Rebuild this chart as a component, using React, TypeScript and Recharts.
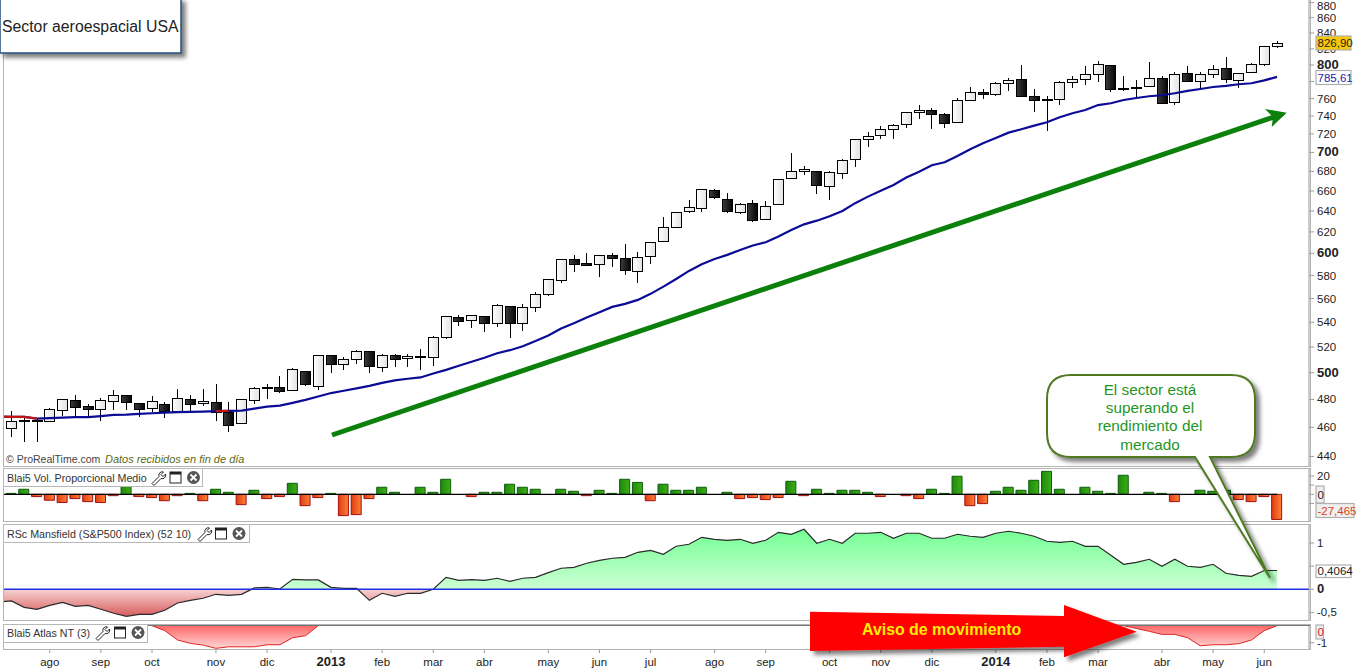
import React from 'react';
import { ComposedChart, Bar, Line, Area, XAxis, YAxis, Cell, ReferenceLine } from 'recharts';

const FONT = '"Liberation Sans", Arial, sans-serif';

// weekly candles, read off the log price scale
const opens = [459.4,465.3,465.1,464.4,471.9,479.5,475.3,472.9,478.7,483.2,477.3,473.3,476.5,471.9,480.2,477.3,478,471.2,463,479.5,
  489.1,489.1,486.9,501.2,489.8,513.6,506.6,510.4,516.7,504.3,513.6,511.2,512.4,512,527.9,544.3,541.8,545.1,539.3,553.4,
  539.3,552.6,563.6,575.8,594.6,591,590.1,598.3,595.5,583.9,597.3,611.2,624.4,639.8,642.9,660.7,651.7,638.9,647.8,632.1,
  646.7,673,680.2,680.2,664.8,678.1,692.7,714.3,718.6,725.2,730.7,744.3,746.5,741.9,733,758,767.3,765,777.9,782.7,
  762.6,759.2,759.2,779,782.7,788.7,799.6,772,773.2,774.4,783.9,755.7,789.9,780.1,788.7,796,781.5,791.1,800.9,823.1];
const highs = [471.7,466.5,466.7,473.6,480.4,483.4,476.6,481,487.1,483.2,477.3,482.2,478,487.6,483.4,487.6,491.6,478,480.2,489.1,
  491.4,497.6,503.5,501.2,513.6,513.6,512,517.7,516.7,514.4,514.4,514.4,518.3,528.7,545.1,546.2,545.9,545.1,555.4,553.4,
  555.4,565.3,576.7,594.6,598.3,600.1,598.3,600.1,608.2,601,610.3,634,638.9,650.7,661.7,661.7,657.6,647.8,650.7,649.7,
  671.9,699,685.4,680.2,680.2,692.7,714.3,722,728.5,730.7,744.3,752.5,748.8,743.1,760.4,773.2,770.8,779,783.9,799.6,
  771,762.6,780.3,786.2,798.4,804.5,799.6,786.2,781.5,803.3,786.2,791.1,798.4,791.1,799.6,809.4,789.9,802.1,823.1,829.5];
const lows = [452.9,449.5,449.5,463.4,468.1,468.1,468.1,464.8,472.4,472.4,467.6,471.2,466.9,471.9,470.5,475.5,464.8,457,463,477,
  480.6,485.1,486.1,490.3,486.6,499.7,502.2,506.8,499.4,500.9,504.7,504,502.4,505.2,526.8,537.1,535.7,532.4,536.5,527.6,
  533.2,548.9,562.5,573.8,583.5,589.2,579,587.9,580.8,573.3,590.7,611.2,624.4,637.9,638.9,651.7,637.9,636.9,629.2,632.1,
  646.7,673,676,656.7,650.7,671.9,684.3,706.1,714.3,714.3,726.3,736.4,725.2,726.3,733,758,759.2,762.6,768.4,762.6,
  745,723.6,752.5,772.3,776,780,767.3,768.4,760.4,773,754.6,752.3,779,769.6,783.9,777.9,771.9,791.1,798.4,820.6];
const closes = [464.4,464.4,464.6,472.9,480.2,474.1,472.9,479.5,483.2,477.7,472.9,478.7,471.2,481,476.5,478.7,470.5,462,480.2,488.4,
  488.1,486.1,502.7,491,513.6,506.6,510.4,516.7,505,513.6,510.4,512.8,512.6,527.9,545.1,541,545.9,539.3,554.3,539.3,
  552.6,563.6,576.7,594.6,590.1,589.2,598.3,595.5,584.7,596.4,610.3,624.8,638.9,643.8,661.7,653.7,639.8,646.8,631.1,644.7,
  671.9,680.2,682.2,665.8,679.1,691.7,714.3,717.6,725.2,729.6,744.3,746.5,742,731.9,758,767.3,765,777.9,781.5,762.6,
  758,758,779,782.7,788.7,800.9,771,771,772,783.9,754.6,788.7,780.1,788.7,794.7,782.7,789.9,800.9,823.1,826.9];
const movingAvg = [467.4,467.4,466.2,466.5,466.9,467.2,467.2,467.9,468.8,469,469.5,470,470.5,470.8,471,471.2,471.5,471.7,471.9,473.3,
  474.8,475.5,477.5,479.7,482.2,484.7,486.4,488.2,490,492.3,494.2,495.4,496.4,499.4,502.2,505.3,508.4,511.5,515.1,517.5,
  520.6,524.9,529.2,534.9,539.3,543.9,548.4,552.9,555.4,558.8,564,570.3,577,584.1,590,594.9,598.6,603.1,607.3,610.3,
  615.6,621.8,627.2,630.7,634.9,640.1,647.8,654.3,660.3,666.1,673.6,679.7,686.4,689.6,696.2,703.4,710,715.7,721.5,725.2,
  729.2,733,738.6,743.2,746.9,752.5,754.6,758.4,760.7,762.7,763.9,766.2,768.9,771.2,773.6,774.8,776.8,778,781.5,785.61];
const redAvgWeeks = [-1, 0, 1, 2, 16, 17];

const volume = [1,5.5,-2.5,-6.5,-9,-4.7,-8,-9,-1.5,8.5,-2.5,-3.6,-7,-1.5,1,-7,5.5,2.2,-11.3,4.4,
  -4.7,-2.5,12,-12.4,-3.6,1,-23.3,-22.2,-4.7,7.7,2.2,0,7.7,2.2,16.4,0,-2.5,2.2,2.2,11,
  7.7,5.5,0,5.5,3.3,-1.5,4.4,1,16.4,13,-7,11,4.4,4.4,7.7,0,2.2,-4.7,-3.6,-5.8,
  -3.6,14.2,-1.5,5.5,1,4.4,4.4,2.2,-2.5,0,-1.5,-4.7,5.5,1,19.7,-12.4,-10.2,3.3,7.7,4.4,
  15.3,25.1,5.5,0,7.7,3.3,1,20.8,0,2.2,1,-8,0,4.4,3.3,4.4,-5.8,-8,-2.5,-27.465];

const mansfield = [-0.252,-0.389,-0.432,-0.346,-0.281,-0.367,-0.346,-0.432,-0.518,-0.583,-0.54,-0.54,-0.454,-0.295,-0.238,-0.194,-0.108,-0.13,-0.108,0.029,
  0.043,0.007,0.216,0.202,0.202,0.043,0.022,0.022,-0.238,-0.086,-0.151,-0.086,-0.086,0,0.259,0.194,0.209,0.194,0.238,0.173,
  0.238,0.259,0.36,0.454,0.475,0.562,0.626,0.67,0.691,0.799,0.842,0.756,0.929,0.972,1.123,1.08,1.058,1.08,0.994,1.058,
  1.231,1.188,1.296,0.994,1.08,0.994,1.21,1.21,1.231,1.102,1.21,1.21,1.102,1.102,1.188,1.145,1.123,1.21,1.253,1.21,
  1.145,1.037,1.015,1.037,0.929,0.929,0.734,0.54,0.583,0.648,0.497,0.648,0.497,0.475,0.54,0.346,0.302,0.281,0.4064,0.4064];

// the week just before the first candle: only its lines show at the left edge
const avgBefore = 467.6;
const mansfieldBefore = -0.274;

const atlasWeeks = [11,12,13,14,15,16,17,18,19,20,21,22,23,24,87,88,89,90,91,92,93,94,95,96,97,98,99];
const atlasValues = [0,-0.29,-0.84,-1.04,-1.14,-1.33,-1.24,-1.24,-1.24,-1.12,-1.12,-0.71,-0.59,0,0,-0.16,-0.33,-0.51,-0.51,-0.71,-1.18,-1.12,-1.12,-1.06,-0.84,-0.29,0];

const monthWeeks = [3,7,11,16,20,25,29,33,37,42,46,50,55,59,64,68,72,77,81,85,90,94,98];
const monthLabels = ['ago','sep','oct','nov','dic','2013','feb','mar','abr','may','jun','jul','ago','sep','oct','nov','dic','2014','feb','mar','abr','may','jun'];

const priceTicks = [440,460,480,500,520,540,560,580,600,620,640,660,680,700,720,740,760,780,800,820,840,860,880];

const rows = Array.from({ length: 103 }, (_, n) => {
  const i = n - 1;
  const atlasAt = atlasWeeks.indexOf(i);
  const v = i < 0 ? mansfieldBefore : mansfield[i];
  const avg = i < 0 ? avgBefore : movingAvg[i];
  return {
    idx: i,
    open: opens[i],
    high: highs[i],
    low: lows[i],
    close: closes[i],
    avg,
    avgRed: redAvgWeeks.includes(i) ? avg : null,
    vol: i >= 0 && i < 100 && volume[i] !== 0 ? volume[i] : null,
    rs: v,
    rsUp: v === undefined ? null : Math.max(v, 0),
    rsDown: v === undefined ? null : Math.min(v, 0),
    atlas: atlasAt >= 0 ? atlasValues[atlasAt] : null,
  };
});

function Candle(props: any) {
  const { x, y, width, height, payload } = props;
  if (payload.high === undefined) return null;
  const top = Math.min(y, y + height);
  const span = Math.log(payload.high / payload.low);
  const at = (v: number) => top + (Math.abs(height) * Math.log(payload.high / v)) / span;
  const up = payload.close >= payload.open;
  const bodyTop = at(Math.max(payload.open, payload.close));
  const bodyBottom = at(Math.min(payload.open, payload.close));
  const cx = Math.round(x + width / 2) + 0.5;
  return (
    <g shapeRendering="crispEdges">
      <line x1={cx} x2={cx} y1={top} y2={top + Math.abs(height)} stroke="#000" />
      <rect
        x={cx - 5}
        y={Math.round(bodyTop) + 0.5}
        width={10}
        height={Math.max(Math.round(bodyBottom - bodyTop), 1)}
        fill={up ? 'url(#candleUp)' : 'url(#candleDown)'}
        stroke="#000"
      />
    </g>
  );
}

function PriceTick({ x, y, payload }: any) {
  // 780 sits behind the moving average box in the original
  if (payload.value === 780) return <g />;
  const bold = payload.value % 100 === 0;
  return (
    <text x={x} y={Math.max(y, 6) + 4} fontSize={bold ? 13 : 11.5} fontWeight={bold ? 700 : 400} fill="#222" fontFamily={FONT}>
      {payload.value}
    </text>
  );
}

function SideTick({ x, y, payload }: any) {
  const bold = payload.value === 0;
  const label = String(payload.value).replace('.', ',');
  return (
    <text x={x} y={y + 4} fontSize={bold ? 13 : 11.5} fontWeight={bold ? 700 : 400} fill="#222" fontFamily={FONT}>
      {label}
    </text>
  );
}

function MonthTick({ x, y, payload }: any) {
  const label = monthLabels[monthWeeks.indexOf(payload.value)];
  const year = label.length === 4;
  return (
    <text x={x} y={y + 11} textAnchor="middle" fontSize={year ? 13 : 11.5} fontWeight={year ? 700 : 400} fill="#222" fontFamily={FONT}>
      {label}
    </text>
  );
}

function Tools({ x, cy }: { x: number[]; cy: number }) {
  return (
    <g>
      <path
        d={`M${x[0] - 6} ${cy + 6} l7 -7 a3.5 3.5 0 0 1 4.5 -4.5 l-2.5 2.5 l2 2 l2.5 -2.5 a3.5 3.5 0 0 1 -4.5 4.5 l-7 7 z`}
        fill="#fff"
        stroke="#222"
      />
      <rect x={x[1] - 5.5} y={cy - 5.5} width={11} height={11} fill="#fff" stroke="#222" />
      <rect x={x[1] - 5.5} y={cy - 5.5} width={11} height={2.5} fill="#222" />
      <circle cx={x[2]} cy={cy} r={6.5} fill="#555" />
      <path d={`M${x[2] - 3} ${cy - 3} l6 6 m0 -6 l-6 6`} stroke="#fff" strokeWidth={1.8} />
    </g>
  );
}

function PanelLabel({ text, w, y, tools, cy }: { text: string; w: number; y: number; tools: number[]; cy: number }) {
  return (
    <g>
      <rect x={3.5} y={y + 0.5} width={w} height={18} fill="#fff" stroke="#b8b8b8" />
      <text x={7} y={cy + 4} fontSize={10.7} fill="#333" fontFamily={FONT}>{text}</text>
      <Tools x={tools} cy={cy} />
    </g>
  );
}

function ValueBox({ x, y, w, h, fill, color, text }: any) {
  return (
    <g>
      <rect x={x} y={y} width={w} height={h} fill={fill} stroke="#b0b0b0" strokeWidth={1.2} />
      <text x={x + 1.5} y={y + h / 2 + 4} fontSize={11.5} fill={color} fontFamily={FONT}>{text}</text>
    </g>
  );
}

const CHART_W = 1358;
const MARGIN = { top: 0, right: 0, bottom: 0, left: -7.784 };
const AXIS_W = 49;

export default function App() {
  return (
    <div style={{ position: 'fixed', left: 0, top: 0, width: 1358, height: 668, overflow: 'hidden', background: '#fff', fontFamily: FONT }}>
      <svg width={0} height={0} style={{ position: 'absolute' }}>
        <defs>
          <linearGradient id="candleUp" x1="0" x2="1" y1="0" y2="0">
            <stop offset="0" stopColor="#ffffff" />
            <stop offset="1" stopColor="#e2e2e2" />
          </linearGradient>
          <linearGradient id="candleDown" x1="0" x2="1" y1="0" y2="0">
            <stop offset="0" stopColor="#3c3c3c" />
            <stop offset="1" stopColor="#050505" />
          </linearGradient>
          <linearGradient id="volUp" x1="0" x2="1" y1="0" y2="0">
            <stop offset="0" stopColor="#1c8a0e" />
            <stop offset="1" stopColor="#3fae14" />
          </linearGradient>
          <linearGradient id="volDown" x1="0" x2="1" y1="0" y2="0">
            <stop offset="0" stopColor="#e03c10" />
            <stop offset="1" stopColor="#ff8038" />
          </linearGradient>
          <linearGradient id="rsUp" x1="0" x2="0" y1="0" y2="1">
            <stop offset="0" stopColor="#74ff94" />
            <stop offset="1" stopColor="#ccffd4" />
          </linearGradient>
          <linearGradient id="rsDown" x1="0" x2="0" y1="0" y2="1">
            <stop offset="0" stopColor="#f6d2d2" />
            <stop offset="1" stopColor="#d85c5c" />
          </linearGradient>
          <linearGradient id="atlasFill" x1="0" x2="0" y1="0" y2="1">
            <stop offset="0" stopColor="#ff6a6a" />
            <stop offset="1" stopColor="#ffd6d6" />
          </linearGradient>
          <filter id="shadow" x="-10%" y="-20%" width="125%" height="150%">
            <feDropShadow dx="4" dy="4" stdDeviation="2.2" floodColor="#000" floodOpacity="0.5" />
          </filter>
        </defs>
      </svg>

      {/* price */}
      <div style={{ position: 'absolute', left: 0, top: 0 }}>
        <ComposedChart width={CHART_W} height={466} data={rows} margin={MARGIN}>
          <XAxis dataKey="idx" scale="band" hide />
          <YAxis
            orientation="right"
            width={AXIS_W}
            scale="log"
            domain={[433.6, 883.5]}
            allowDataOverflow
            ticks={priceTicks}
            interval={0}
            tick={<PriceTick />}
            tickSize={5}
            tickMargin={3}
            axisLine={{ stroke: '#999' }}
            tickLine={{ stroke: '#999' }}
          />
          <Bar dataKey={(d: any) => (d.high === undefined ? null : [d.low, d.high])} barSize={10} shape={<Candle />} isAnimationActive={false} />
          <Line dataKey="avg" stroke="#0b0b96" strokeWidth={2.2} dot={false} isAnimationActive={false} />
          <Line dataKey="avgRed" stroke="#c01414" strokeWidth={2.2} dot={false} isAnimationActive={false} />
        </ComposedChart>
      </div>

      {/* volume */}
      <div style={{ position: 'absolute', left: 0, top: 468 }}>
        <ComposedChart width={CHART_W} height={53} data={rows} margin={MARGIN}>
          <XAxis dataKey="idx" scale="band" hide />
          <YAxis
            orientation="right"
            width={AXIS_W}
            domain={[-29.18, 28.74]}
            allowDataOverflow
            ticks={[20, 10, 0, -10]}
            interval={0}
            tick={(p: any) => (p.payload.value === 20 ? <SideTick {...p} /> : <g />)}
            tickSize={5}
            tickMargin={3}
            axisLine={{ stroke: '#999' }}
            tickLine={{ stroke: '#999' }}
          />
          <Bar dataKey="vol" barSize={10} strokeWidth={1} isAnimationActive={false}>
            {rows.map((r) => (
              <Cell
                key={r.idx}
                fill={(r.vol ?? 0) >= 0 ? 'url(#volUp)' : 'url(#volDown)'}
                stroke={(r.vol ?? 0) >= 0 ? '#0c5c0c' : '#a01010'}
              />
            ))}
          </Bar>
          <ReferenceLine segment={[{ x: -1, y: 0 }, { x: 99, y: 0 }]} stroke="#000" strokeWidth={1.2} />
        </ComposedChart>
      </div>

      {/* relative strength */}
      <div style={{ position: 'absolute', left: 0, top: 524 }}>
        <ComposedChart width={CHART_W} height={96} data={rows} margin={MARGIN}>
          <XAxis dataKey="idx" scale="band" hide />
          <YAxis
            orientation="right"
            width={AXIS_W}
            domain={[-0.663, 1.41]}
            allowDataOverflow
            ticks={[1, 0.5, 0, -0.5]}
            interval={0}
            tick={(p: any) => (p.payload.value === 0.5 ? <g /> : <SideTick {...p} />)}
            tickSize={5}
            tickMargin={3}
            axisLine={{ stroke: '#999' }}
            tickLine={{ stroke: '#999' }}
          />
          <Area dataKey="rsUp" baseValue={0} stroke="none" fill="url(#rsUp)" fillOpacity={1} isAnimationActive={false} />
          <Area dataKey="rsDown" baseValue={0} stroke="none" fill="url(#rsDown)" fillOpacity={1} isAnimationActive={false} />
          <Line dataKey="rs" stroke="#2a2a2a" strokeWidth={1.2} dot={false} isAnimationActive={false} />
          <ReferenceLine y={0} stroke="#1f2fe8" strokeWidth={1.4} />
        </ComposedChart>
      </div>

      {/* atlas and the date axis */}
      <div style={{ position: 'absolute', left: 0, top: 624 }}>
        <ComposedChart width={CHART_W} height={44} data={rows} margin={MARGIN}>
          <XAxis
            dataKey="idx"
            scale="band"
            height={19}
            ticks={monthWeeks}
            interval={0}
            tick={<MonthTick />}
            tickSize={4}
            axisLine={false}
            tickLine={{ stroke: '#999' }}
          />
          <YAxis
            orientation="right"
            width={AXIS_W}
            domain={[-1.37, 0.1]}
            allowDataOverflow
            ticks={[-1]}
            interval={0}
            tick={<SideTick />}
            tickSize={5}
            tickMargin={3}
            axisLine={{ stroke: '#999' }}
            tickLine={{ stroke: '#999' }}
          />
          <Area dataKey="atlas" baseValue={0} stroke="#e02424" strokeWidth={1} fill="url(#atlasFill)" fillOpacity={1} isAnimationActive={false} />
        </ComposedChart>
      </div>

      {/* panel frames and annotations */}
      <svg width={1358} height={668} style={{ position: 'absolute', left: 0, top: 0 }}>
        <rect x={0} y={0} width={3} height={668} fill="#fff" />
        <g shapeRendering="crispEdges">
          <rect x={3.5} y={-2} width={1306.5} height={468} fill="none" stroke="#b4b4b4" />
          <rect x={3.5} y={468.5} width={1306.5} height={52.5} fill="none" stroke="#b4b4b4" />
          <rect x={3.5} y={524.5} width={1306.5} height={95.5} fill="none" stroke="#b4b4b4" />
          <rect x={3.5} y={624.5} width={1306.5} height={25} fill="none" stroke="#b4b4b4" />
          <line x1={3.5} x2={1310} y1={625.5} y2={625.5} stroke="#777" />
        </g>

        <text x={6} y={463} fontSize={10.5} fill="#444" fontFamily={FONT}>© ProRealTime.com</text>
        <text x={105} y={463} fontSize={11} fontStyle="italic" fill="#5c6a12" fontFamily={FONT}>Datos recibidos en fin de día</text>

        <PanelLabel text="Blai5 Vol. Proporcional Medio" w={199} y={468} tools={[158, 175.5, 193.5]} cy={477.5} />
        <PanelLabel text="RSc Mansfield (S&P500 Index) (52 10)" w={246} y={524} tools={[204, 221, 239]} cy={533.5} />
        <PanelLabel text="Blai5 Atlas NT (3)" w={144} y={624} tools={[102, 120, 138]} cy={632.5} />

        <ValueBox x={1316} y={36} w={35} h={14} fill="#f9c806" color="#222" text="826,90" />
        <ValueBox x={1316} y={70.5} w={35} h={14} fill="#fff" color="#2222b0" text="785,61" />
        <ValueBox x={1316} y={486} w={8} h={17} fill="#efefef" color="#222" text="0" />
        <ValueBox x={1316} y={503.5} w={38} h={14} fill="#efefef" color="#d8451a" text="-27,465" />
        <ValueBox x={1316} y={565} w={35} h={12.5} fill="#fff" color="#222" text="0,4064" />
        <ValueBox x={1316} y={625} w={7.5} h={14} fill="#efefef" color="#d02020" text="0" />

        <g filter="url(#shadow)">
          <rect x={0} y={-2} width={181} height={55} fill="#fff" stroke="#234e80" strokeWidth={1.5} />
        </g>
        <text x={2} y={32} fontSize={15.8} fill="#222" fontFamily={FONT}>Sector aeroespacial USA</text>

        <line x1={332} y1={435} x2={1274} y2={117} stroke="#0b800b" strokeWidth={5} />
        <polygon points="1286.7,112.7 1265,109 1273,117 1271.7,127" fill="#0b800b" />

        <path
          d="M1071 375 H1231 Q1255 375 1255 399 V433 Q1255 457 1231 457 H1210 L1270 578 L1195 457 H1071 Q1047 457 1047 433 V399 Q1047 375 1071 375 Z"
          fill="#fff"
          stroke="#4f7a22"
          strokeWidth={2}
          filter="url(#shadow)"
        />
        {['El sector está', 'superando el', 'rendimiento del', 'mercado'].map((line, i) => (
          <text key={line} x={1150} y={395 + i * 18.2} textAnchor="middle" fontSize={15.3} fill="#1f961f" fontFamily={FONT}>
            {line}
          </text>
        ))}

        <polygon
          points="810,611.7 1064,616 1064,605 1136.7,631.7 1064,657.3 1064,646.7 810,651"
          fill="#ff0000"
          filter="url(#shadow)"
        />
        <text x={862} y={635} fontSize={15.9} fontWeight={700} fill="#ffee00" fontFamily={FONT}>Aviso de movimiento</text>
      </svg>
    </div>
  );
}
